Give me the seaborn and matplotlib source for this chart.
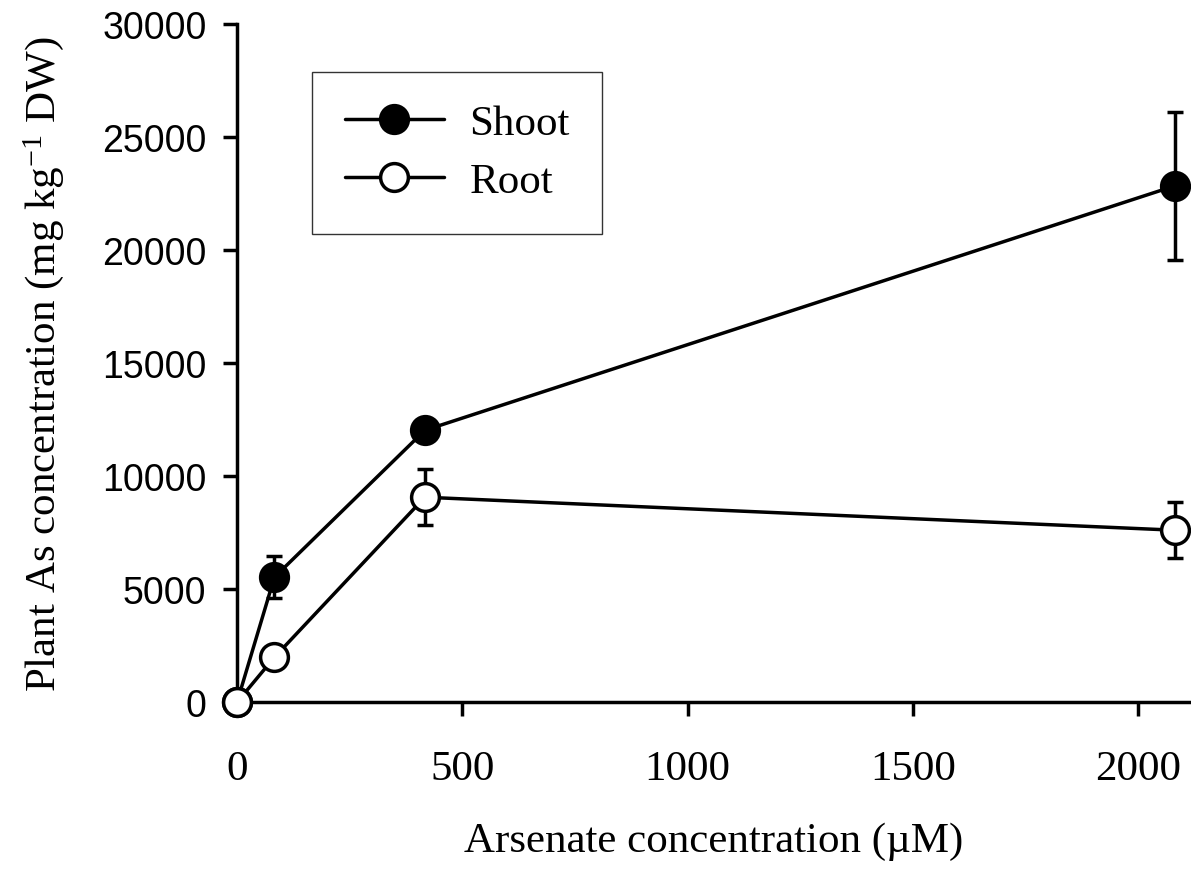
import pandas as pd
import numpy as np
import matplotlib
matplotlib.use('Agg')
import matplotlib.pyplot as plt
import seaborn as sns

sns.set_style('ticks')
plt.rcParams['font.family'] = ['Liberation Serif', 'DejaVu Serif']
plt.rcParams['mathtext.fontset'] = 'custom'
plt.rcParams['mathtext.rm'] = 'Liberation Serif'
plt.rcParams['mathtext.it'] = 'Liberation Serif:italic'
for k in ['text.color', 'axes.labelcolor', 'xtick.color', 'ytick.color', 'axes.edgecolor']:
    plt.rcParams[k] = 'black'

# dados
arsenate = [0, 83, 417, 2083]
shoot = [0, 5530, 12030, 22850]
shoot_err = [0, 930, 300, 3270]
root = [0, 1990, 9070, 7610]
root_err = [0, 150, 1240, 1240]

x_ticks = [0, 500, 1000, 1500, 2000]
y_ticks = [0, 5000, 10000, 15000, 20000, 25000, 30000]

df = pd.DataFrame({'x': arsenate * 2,
                   'y': shoot + root,
                   'err': shoot_err + root_err,
                   'part': ['Shoot'] * 4 + ['Root'] * 4})

fig = plt.figure(figsize=(11.91, 8.78), dpi=100)
ax = fig.add_axes([0.199, 0.199, 0.8, 0.7725])

lw = 2.5
for part, face in [('Shoot', 'black'), ('Root', 'white')]:
    d = df[df['part'] == part]
    ax.errorbar(d['x'], d['y'], yerr=d['err'], fmt='none', ecolor='black',
                elinewidth=lw, capsize=6, capthick=lw, zorder=2, clip_on=False)
    sns.lineplot(data=d, x='x', y='y', ax=ax, color='black', linewidth=lw,
                 marker='o', markersize=20, markerfacecolor=face,
                 markeredgecolor='black', markeredgewidth=2.5,
                 label=part, clip_on=False, zorder=3)

ax.set_xlim(0, 2115)
ax.set_ylim(0, 30000)
ax.set_xticks(x_ticks)
ax.set_yticks(y_ticks)
sns.despine(ax=ax)
for s in ['left', 'bottom']:
    ax.spines[s].set_linewidth(2.5)
ax.tick_params(axis='both', direction='out', length=10, width=2.5, color='black')
ax.tick_params(axis='x', pad=24, labelsize=31)
ax.tick_params(axis='y', pad=12, labelsize=27)
for lab in ax.get_yticklabels():
    lab.set_family('Liberation Sans')

ax.set_xlabel('Arsenate concentration (µM)', fontsize=31, labelpad=24)
ax.set_ylabel('Plant As concentration (mg kg$^{-1}$ DW)', fontsize=31, labelpad=26)

leg = ax.legend(loc='upper left', bbox_to_anchor=(0.079, 0.93), fontsize=31,
                frameon=True, fancybox=False, edgecolor='black',
                handlelength=2.3, borderpad=0.75, labelspacing=0.45,
                handletextpad=0.6, borderaxespad=0)
leg.get_frame().set_linewidth(1.0)

fig.savefig('out.png', dpi=100)
